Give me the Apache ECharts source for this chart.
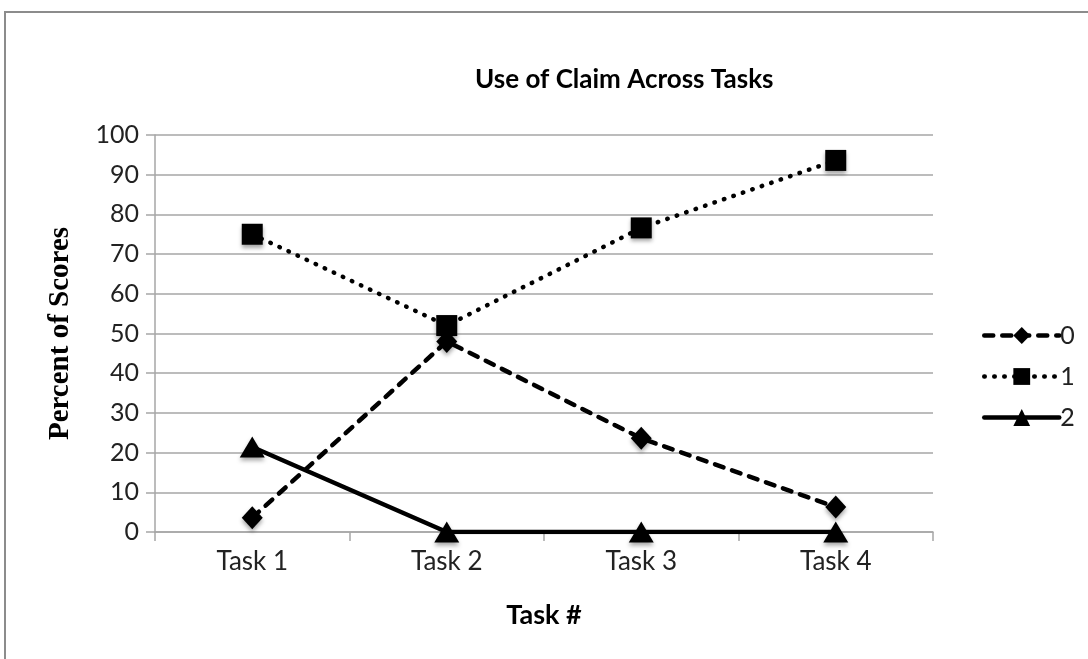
<!DOCTYPE html>
<html><head><meta charset="utf-8">
<script src="https://cdn.jsdelivr.net/npm/echarts@6/dist/echarts.min.js"></script>
<style>html,body{margin:0;padding:0;background:#fff}#c{width:1088px;height:659px}</style>
</head><body><div id="c"></div>
<script>
const categories = ['Task 1', 'Task 2', 'Task 3', 'Task 4'];
const seriesNames = ['0', '1', '2'];
const score0 = [3.6, 48, 23.6, 6.3];
const score1 = [75, 52, 76.6, 93.6];
const score2 = [21.4, 0, 0, 0];
const yTicks = {min: 0, max: 100, interval: 10};

const chart = echarts.init(document.getElementById('c'));
const font = 'Lato, "Open Sans", sans-serif';
const mk = (name, data, sym, size, type) => ({
  name, type: 'line', data, symbol: sym, symbolSize: size,
  itemStyle: {color: '#000', shadowColor: 'rgba(0,0,0,0.35)', shadowBlur: 4, shadowOffsetY: 3},
  lineStyle: {color: '#000', width: 4.5, type, cap: 'round'},
  emphasis: {disabled: true}, z: 3
});
chart.setOption({
  animation: false,
  graphic: [{type: 'rect', shape: {x: 5, y: 12, width: 1200, height: 800},
    style: {fill: 'none', stroke: '#8c8c8c', lineWidth: 2}, silent: true}],
  title: {text: 'Use of Claim Across Tasks', left: 470, top: 62,
    textStyle: {fontFamily: font, fontWeight: 'bold', fontSize: 26, color: '#000'}},
  grid: {left: 155, right: 155, top: 135, bottom: 127},
  legend: {orient: 'vertical', left: 977, top: 318, itemGap: 16, itemWidth: 75, itemHeight: 21,
    data: seriesNames,
    lineStyle: {width: 4.5},
    textStyle: {fontFamily: font, fontSize: 25, color: '#222', padding: [0, 0, 0, -4]}},
  xAxis: {type: 'category', data: categories, boundaryGap: true,
    name: 'Task #', nameLocation: 'middle', nameGap: 70,
    nameTextStyle: {fontFamily: font, fontWeight: 'bold', fontSize: 27, color: '#000'},
    axisLine: {lineStyle: {color: '#a6a6a6', width: 1.5}},
    axisTick: {show: true, length: 9, lineStyle: {color: '#a6a6a6', width: 1.5}},
    axisLabel: {fontFamily: font, fontSize: 26, color: '#222', margin: 17}},
  yAxis: {type: 'value', min: yTicks.min, max: yTicks.max, interval: yTicks.interval,
    name: 'Percent of Scores', nameLocation: 'middle', nameGap: 80,
    nameTextStyle: {fontFamily: '"Liberation Serif", serif', fontWeight: 'bold', fontSize: 29, color: '#000'},
    axisLine: {show: true, lineStyle: {color: '#a6a6a6', width: 1.5}},
    axisTick: {show: true, length: 9, lineStyle: {color: '#a6a6a6', width: 1.5}},
    splitLine: {lineStyle: {color: '#a6a6a6', width: 1.5}},
    axisLabel: {fontFamily: font, fontSize: 25, color: '#222', margin: 16}},
  series: [
    mk(seriesNames[0], score0, 'diamond', [21, 23], [9, 9]),
    mk(seriesNames[1], score1, 'rect', 21, [0.5, 9.5]),
    mk(seriesNames[2], score2, 'triangle', [25, 21], 'solid')
  ]
});
</script></body></html>
